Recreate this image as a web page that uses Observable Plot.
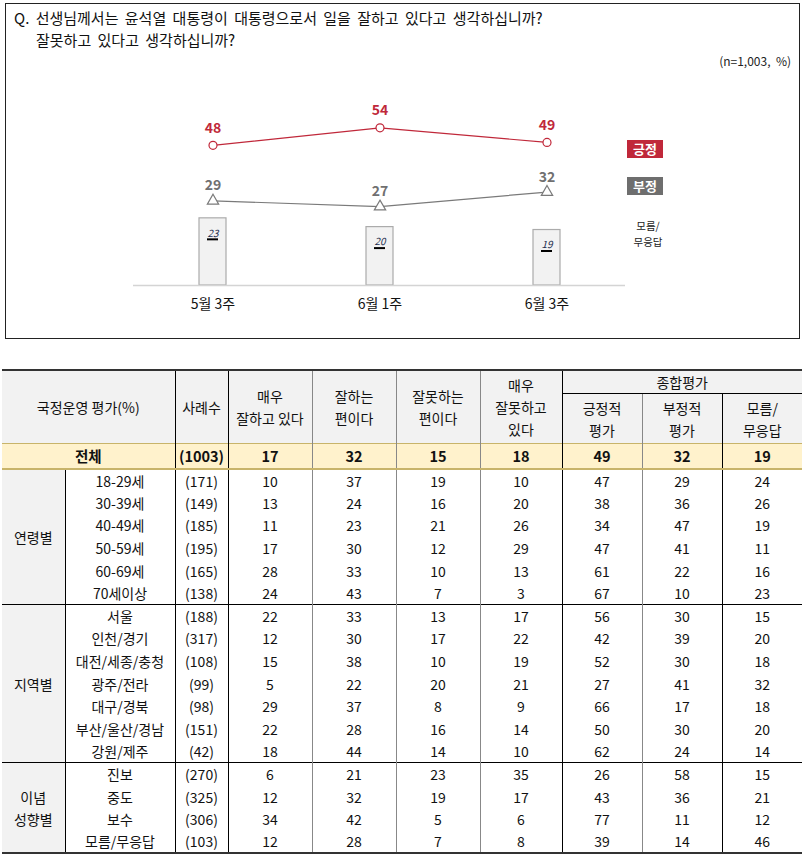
<!DOCTYPE html>
<html><head><meta charset="utf-8">
<script src="https://cdn.jsdelivr.net/npm/d3@7"></script>
<script src="https://cdn.jsdelivr.net/npm/@observablehq/plot@0.6"></script>
<style>
html,body{margin:0;padding:0;background:#fff;overflow:hidden;}
body{font-family:"Noto Sans CJK KR","Noto Sans",sans-serif;color:#111;}
#wrap{position:relative;width:805px;height:856px;overflow:hidden;}
#chart{position:absolute;left:0;top:0;}
#box{position:absolute;left:5px;top:3px;width:793px;height:334px;border:1.5px solid #222;pointer-events:none;}
.q{position:absolute;font-size:15px;line-height:20px;white-space:nowrap;color:#111;word-spacing:3px;}
.note{position:absolute;right:14px;top:52px;font-size:12px;color:#222;}
.leg{position:absolute;left:627px;width:36px;height:18px;line-height:18px;color:#fff;font-size:13px;font-weight:bold;text-align:center;}
.dk{position:absolute;left:620px;width:56px;font-size:10.5px;line-height:12px;text-align:center;color:#222;}
#tbl{position:absolute;left:2px;top:369px;}
table{border-collapse:collapse;table-layout:fixed;width:800px;font-size:14px;}
td,th{padding:0;text-align:center;vertical-align:middle;line-height:22px;font-weight:normal;color:#111;overflow:hidden;white-space:nowrap;}
thead th{background:#f2f2f2;}
tr.hd1 th{border-top:2px solid #333;}
tr.tot td{background:#fff2cc;font-weight:bold;font-size:14.5px;border-top:1px solid #c8b46a;border-bottom:2px solid #c8b46a;}
td.grp{background:#f2f2f2;line-height:22px;}
tr.sec td{border-top:1px solid #000;}
tr.last td{border-bottom:2px solid #333;}
</style></head>
<body><div id="wrap">
<div id="chart"></div>
<div id="box"></div>
<div class="q" style="left:14px;top:8px;">Q. 선생님께서는 윤석열 대통령이 대통령으로서 일을 잘하고 있다고 생각하십니까?</div>
<div class="q" style="left:36px;top:30px;">잘못하고 있다고 생각하십니까?</div>
<div class="note">(n=1,003,&nbsp; %)</div>
<div class="leg" style="top:140px;background:#c0283a;">긍정</div>
<div class="leg" style="top:177px;background:#6e6e6e;">부정</div>
<div class="dk" style="top:220px;">모름/</div>
<div class="dk" style="top:236px;">무응답</div>
<div id="tbl"></div>
</div>
<script>
// ---- chart data ----
const weeks = ["5월 3주", "6월 1주", "6월 3주"];
const positive = [48, 54, 49];
const negative = [29, 27, 32];
const unknown = [23, 20, 19];

// ---- table data ----
const headerTop = ["국정운영 평가(%)", "사례수", "매우<br>잘하고 있다", "잘하는<br>편이다", "잘못하는<br>편이다", "매우<br>잘못하고<br>있다", "종합평가"];
const headerSub = ["긍정적<br>평가", "부정적<br>평가", "모름/<br>무응답"];
const totalLabel = "전체";
const totalValues = [1003, 17, 32, 15, 18, 49, 32, 19];
const ageLabels = ["18-29세", "30-39세", "40-49세", "50-59세", "60-69세", "70세이상"];
const ageValues = [[171,10,37,19,10,47,29,24],[149,13,24,16,20,38,36,26],[185,11,23,21,26,34,47,19],[195,17,30,12,29,47,41,11],[165,28,33,10,13,61,22,16],[138,24,43,7,3,67,10,23]];
const regionLabels = ["서울", "인천/경기", "대전/세종/충청", "광주/전라", "대구/경북", "부산/울산/경남", "강원/제주"];
const regionValues = [[188,22,33,13,17,56,30,15],[317,12,30,17,22,42,39,20],[108,15,38,10,19,52,30,18],[99,5,22,20,21,27,41,32],[98,29,37,8,9,66,17,18],[151,22,28,16,14,50,30,20],[42,18,44,14,10,62,24,14]];
const ideoLabels = ["진보", "중도", "보수", "모름/무응답"];
const ideoValues = [[270,6,21,23,35,26,58,15],[325,12,32,19,17,43,36,21],[306,34,42,5,6,77,11,12],[103,12,28,7,8,39,14,46]];
const groupNames = ["연령별", "지역별", "이념<br>성향별"];

// ---- chart ----
const data = weeks.map((w, i) => ({week: w, positive: positive[i], negative: negative[i], unknown: unknown[i]}));
const red = "#c0283a", gray = "#7a7a7a";
const chart = Plot.plot({
  width: 805, height: 340,
  marginLeft: 133, marginRight: 180, marginTop: 0, marginBottom: 0,
  style: {background: "transparent", fontFamily: "'Noto Sans CJK KR','Noto Sans',sans-serif", overflow: "visible"},
  x: {type: "band", domain: weeks, range: [129, 630], padding: 0, axis: null},
  y: {domain: [0, 100], range: [285, -7], axis: null},
  marks: [
    Plot.barY(data, {x: "week", y: "unknown", fill: "#f2f2f2", stroke: "#ababab", strokeWidth: 1.2, insetLeft: 70, insetRight: 70}),
    Plot.text(data, {x: "week", y: "unknown", text: d => String(d.unknown), dy: 15, fontSize: 10, fontStyle: "italic", fill: "#1f3050"}),
    Plot.tickY(data, {x: "week", y: "unknown", dy: 21, stroke: "#000", strokeWidth: 2, insetLeft: 78, insetRight: 78}),
    Plot.ruleY([0], {stroke: "#d4d4d4", strokeWidth: 1.5}),
    Plot.lineY(data, {x: "week", y: "negative", stroke: gray, strokeWidth: 1.2}),
    Plot.dot(data, {x: "week", y: "negative", symbol: "triangle", r: 4.2, fill: "white", stroke: gray, strokeWidth: 1.2}),
    Plot.text(data, {x: "week", y: "negative", text: d => String(d.negative), dy: -15, fontSize: 14, fontWeight: "bold", fill: "#707070"}),
    Plot.lineY(data, {x: "week", y: "positive", stroke: red, strokeWidth: 1.2}),
    Plot.dot(data, {x: "week", y: "positive", symbol: "circle", r: 4, fill: "white", stroke: red, strokeWidth: 1.2}),
    Plot.text(data, {x: "week", y: "positive", text: d => String(d.positive), dy: -17, fontSize: 14, fontWeight: "bold", fill: red}),
    Plot.text(weeks, {x: d => d, y: 0, text: d => d, dy: 19, fontSize: 14, fill: "#111"})
  ]
});
document.getElementById("chart").appendChild(chart);

// ---- table ----
const colRight = ["1px solid #000","1px solid #000","1px solid #000","1px solid #888","1px solid #888","1px solid #888","1px solid #000","1px solid #888","1px solid #000","none"];
const widths = [63,110,53,84,84,84,82,80,80,80];
let h = '<table><colgroup>' + widths.map(w => `<col style="width:${w}px">`).join('') + '</colgroup><thead>';
h += `<tr class="hd1" style="height:22px">`;
h += `<th rowspan="2" colspan="2" style="border-right:${colRight[1]}">${headerTop[0]}</th>`;
h += `<th rowspan="2" style="border-right:${colRight[2]}">${headerTop[1]}</th>`;
for (let k = 2; k <= 5; k++) h += `<th rowspan="2" style="border-right:${colRight[k + 1]}">${headerTop[k]}</th>`;
h += `<th colspan="3" style="border-bottom:1px solid #000">${headerTop[6]}</th></tr>`;
h += `<tr style="height:50px">` + headerSub.map((s, i) => `<th style="border-right:${colRight[7 + i]}">${s}</th>`).join('') + `</tr></thead><tbody>`;
h += `<tr class="tot" style="height:25px"><td colspan="2" style="border-right:${colRight[1]}">${totalLabel}</td>` +
  totalValues.map((v, i) => `<td style="border-right:${colRight[i + 2]}">${i === 0 ? '(' + v + ')' : v}</td>`).join('') + `</tr>`;
const sections = [[ageLabels, ageValues], [regionLabels, regionValues], [ideoLabels, ideoValues]];
sections.forEach(([labels, vals], si) => {
  labels.forEach((lab, ri) => {
    let cls = [];
    if (ri === 0 && si > 0) cls.push("sec");
    if (si === sections.length - 1 && ri === labels.length - 1) cls.push("last");
    h += `<tr class="${cls.join(' ')}" style="height:22.6px">`;
    if (ri === 0) h += `<td class="grp" rowspan="${labels.length}" style="border-right:${colRight[0]}${si === sections.length - 1 ? ';border-bottom:2px solid #333' : ''}">${groupNames[si]}</td>`;
    h += `<td style="border-right:${colRight[1]}">${lab}</td>`;
    h += vals[ri].map((v, i) => `<td style="border-right:${colRight[i + 2]}">${i === 0 ? '(' + v + ')' : v}</td>`).join('');
    h += `</tr>`;
  });
});
h += '</tbody></table>';
document.getElementById("tbl").innerHTML = h;
</script>
</body></html>
